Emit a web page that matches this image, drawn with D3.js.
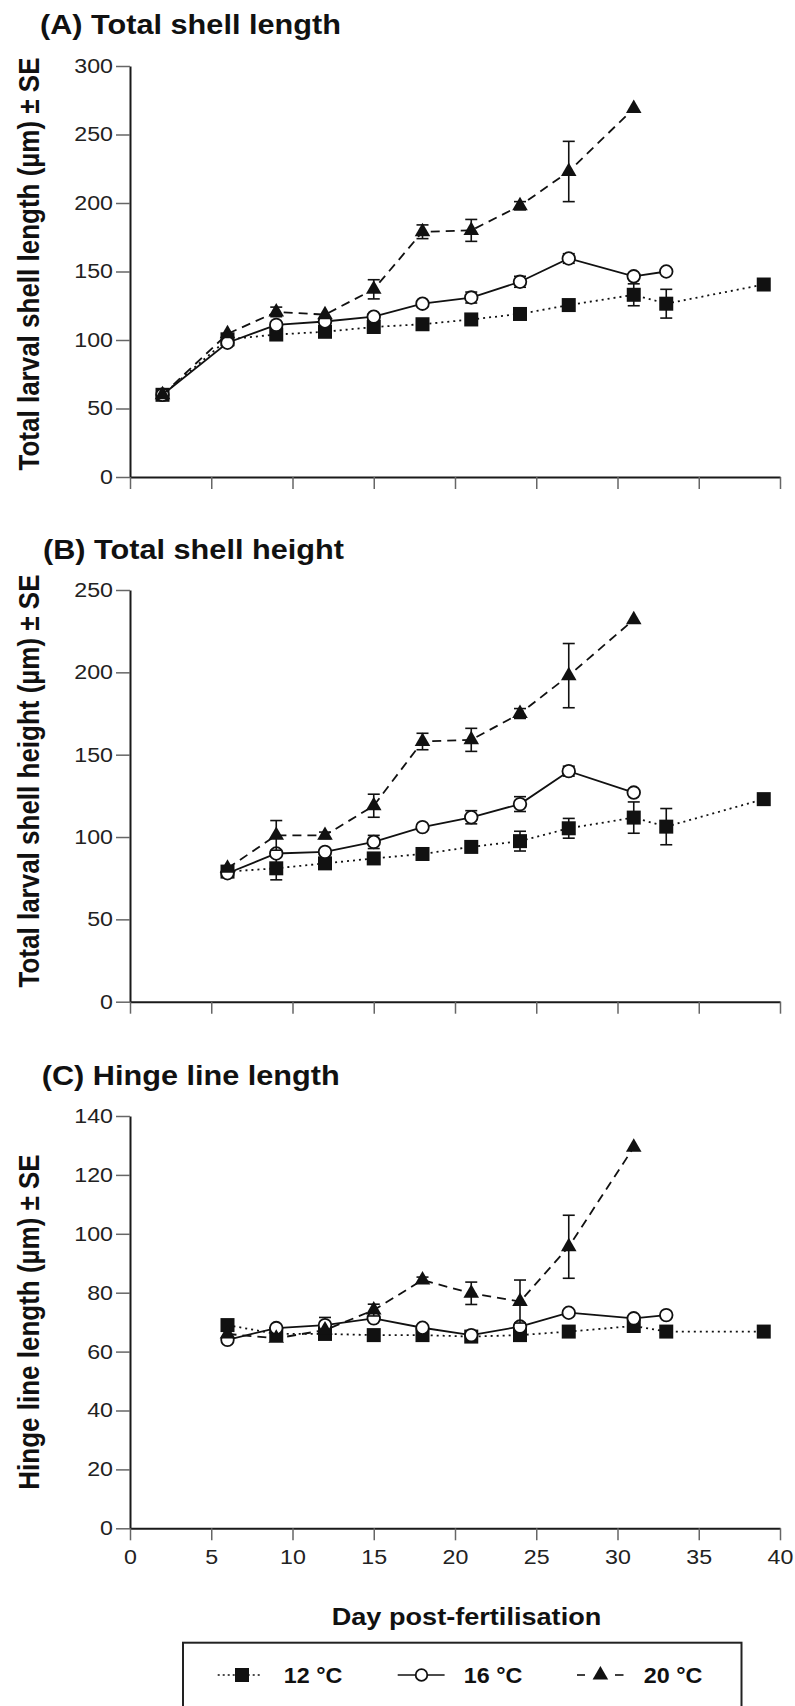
<!DOCTYPE html>
<html><head><meta charset="utf-8">
<script src="https://cdn.jsdelivr.net/npm/d3@7"></script>
<style>
body{margin:0;background:#fff}
svg{display:block}
text{font-family:"Liberation Sans",Arial,Helvetica,sans-serif}
</style>
</head><body><svg id="c" width="795" height="1706"></svg>
<script>
// ---------------- DATA ----------------
const panelTitles = ["(A) Total shell length", "(B) Total shell height", "(C) Hinge line length"];
const yLabels = ["Total larval shell length (µm) ± SE", "Total larval shell height (µm) ± SE", "Hinge line length (µm) ± SE"];
const xTicks = [0, 5, 10, 15, 20, 25, 30, 35, 40];
const yTicksA = [0, 50, 100, 150, 200, 250, 300];
const yTicksB = [0, 50, 100, 150, 200, 250];
const yTicksC = [0, 20, 40, 60, 80, 100, 120, 140];
const xLabel = "Day post-fertilisation";
const seriesNames = ["12 °C", "16 °C", "20 °C"];

// (A) Total shell length
const daysA12 = [2, 6, 9, 12, 15, 18, 21, 24, 27, 31, 33, 39];
const valsA12 = [60, 100.5, 104, 106, 109.5, 111.5, 115, 119, 125.5, 133, 126.5, 140.5];
const seA12   = [0, 0, 0, 0, 0, 0, 0, 2, 0, 8, 10.5, 0];
const daysA16 = [2, 6, 9, 12, 15, 18, 21, 24, 27, 31, 33];
const valsA16 = [60, 98, 111, 113.5, 117, 126.5, 131, 142.5, 159.5, 146.5, 150];
const seA16   = [0, 0, 0, 0, 2, 0, 4, 4, 3.5, 0, 0];
const daysA20 = [2, 6, 9, 12, 15, 18, 21, 24, 27, 31];
const valsA20 = [60, 104.5, 120.5, 118.5, 137, 179, 180, 198, 223, 269];
const seA20   = [0, 0, 3.5, 0, 7, 5, 8, 3, 22, 0];

// (B) Total shell height
const daysB12 = [6, 9, 12, 15, 18, 21, 24, 27, 31, 33, 39];
const valsB12 = [79, 81, 84, 87, 89.7, 94, 97.5, 105.3, 111.8, 106.3, 123];
const seB12   = [0, 7, 0, 0, 0, 2, 6, 6, 9.5, 11, 0];
const daysB16 = [6, 9, 12, 15, 18, 21, 24, 27, 31];
const valsB16 = [78, 90, 91, 97, 106, 112, 120, 140, 127];
const seB16   = [0, 0, 0, 4, 0, 4, 4.5, 3, 0];
const daysB20 = [6, 9, 12, 15, 18, 21, 24, 27, 31];
const valsB20 = [81, 101, 101, 119, 158, 159, 175, 198, 232];
const seB20   = [0, 9, 2, 7, 5, 7, 3, 19.5, 0];

// (C) Hinge line length
const daysC12 = [6, 9, 12, 15, 18, 21, 24, 27, 31, 33, 39];
const valsC12 = [69, 66, 66, 65.6, 65.6, 65.1, 65.6, 66.8, 68.7, 66.8, 66.8];
const seC12   = [0, 0, 0, 0, 0, 0, 0, 0, 0, 0, 0];
const daysC16 = [6, 9, 12, 15, 18, 21, 24, 27, 31, 33];
const valsC16 = [64, 68, 69, 71.3, 68.1, 65.6, 68.5, 73.2, 71.3, 72.4];
const seC16   = [0, 0, 2.6, 0, 0, 0, 0, 0, 0, 0];
const daysC20 = [6, 9, 12, 15, 18, 21, 24, 27, 31];
const valsC20 = [66, 64.5, 67.3, 74.1, 84.3, 79.8, 77, 95.6, 129.4];
const seC20   = [0, 0, 0, 2, 1, 3.8, 7.3, 10.7, 0];

// ---------------- BUILD ----------------
function zipSeries(days, vals, se) { return days.map((d, i) => ({day: d, v: vals[i], se: se[i]})); }
const panels = [
  {ticks: yTicksA, series: [zipSeries(daysA12, valsA12, seA12), zipSeries(daysA16, valsA16, seA16), zipSeries(daysA20, valsA20, seA20)]},
  {ticks: yTicksB, series: [zipSeries(daysB12, valsB12, seB12), zipSeries(daysB16, valsB16, seB16), zipSeries(daysB20, valsB20, seB20)]},
  {ticks: yTicksC, series: [zipSeries(daysC12, valsC12, seC12), zipSeries(daysC16, valsC16, seC16), zipSeries(daysC20, valsC20, seC20)]}
];

// layout (styles/positions)
const layout = [
  {top: 66,   bottom: 477,    titleX: 40,   titleY: 33.5,  labelCY: 264},
  {top: 590,  bottom: 1001.7, titleX: 43,   titleY: 559.3, labelCY: 781},
  {top: 1116, bottom: 1528.3, titleX: 41.7, titleY: 1085,  labelCY: 1322}
];
const styles = [
  {dash: "2,4", marker: "square"},
  {dash: null, marker: "circle"},
  {dash: "9,6", marker: "triangle"}
];
const INK = "#111";
const TSX = 1.16; // horizontal stretch of tick labels
const svg = d3.select("#c");
svg.append("rect").attr("width", 795).attr("height", 1706).attr("fill", "#fff");

const x = d3.scaleLinear().domain([0, 40]).range([130, 780]);

function drawMarker(g, type, cx, cy, scale) {
  const s = scale || 1;
  if (type === "square") {
    g.append("rect").attr("x", cx - 7 * s).attr("y", cy - 7 * s)
      .attr("width", 14 * s).attr("height", 14 * s).attr("fill", INK);
  } else if (type === "circle") {
    g.append("circle").attr("cx", cx).attr("cy", cy).attr("r", 6.3 * s)
      .attr("fill", "#fff").attr("stroke", INK).attr("stroke-width", 1.8);
  } else {
    g.append("path").attr("d", d3.symbol(d3.symbolTriangle, 105 * s * s)())
      .attr("transform", `translate(${cx},${cy})`).attr("fill", INK);
  }
}

panels.forEach((p, i) => {
  const L = layout[i];
  const ymax = p.ticks[p.ticks.length - 1];
  const y = d3.scaleLinear().domain([0, ymax]).range([L.bottom, L.top]);
  const g = svg.append("g");

  // title
  g.append("text").attr("transform", `translate(${L.titleX},${L.titleY}) scale(1.095,1)`)
    .attr("font-size", 28).attr("font-weight", "bold").attr("fill", "#111").text(panelTitles[i]);

  // y label
  g.append("text").attr("transform", `translate(38.5,${L.labelCY}) rotate(-90) scale(1,1.12)`)
    .attr("text-anchor", "middle").attr("font-size", 26).attr("font-weight", "bold").attr("fill", "#111")
    .text(yLabels[i]);

  // y axis
  const ya = g.append("g").attr("transform", "translate(130,0)")
    .call(d3.axisLeft(y).tickValues(p.ticks).tickSize(14).tickSizeOuter(0));
  ya.select(".domain").attr("stroke", "#1a1a1a").attr("stroke-width", 2);
  ya.selectAll(".tick line").attr("stroke", "#666").attr("stroke-width", 1.5);
  ya.selectAll(".tick text").attr("font-size", 20).attr("fill", "#222")
    .attr("font-family", "'Liberation Sans',Arial,sans-serif")
    .attr("x", -17 / TSX).attr("transform", `scale(${TSX},1)`);

  // x axis
  const xa = g.append("g").attr("transform", `translate(0,${L.bottom})`)
    .call(d3.axisBottom(x).tickValues(xTicks).tickSize(12).tickSizeOuter(0)
      .tickFormat(i === 2 ? d3.format("d") : () => ""));
  xa.select(".domain").attr("stroke", "#1a1a1a").attr("stroke-width", 2);
  xa.selectAll(".tick line").attr("stroke", "#666").attr("stroke-width", 1.5);
  xa.selectAll(".tick text").attr("font-size", 20).attr("fill", "#222")
    .attr("font-family", "'Liberation Sans',Arial,sans-serif")
    .attr("y", 21.5).attr("transform", `scale(${TSX},1)`);

  // series
  p.series.forEach((data, k) => {
    const st = styles[k];
    const sg = g.append("g");
    const line = d3.line().x(d => x(d.day)).y(d => y(d.v));
    sg.append("path").datum(data).attr("d", line).attr("fill", "none")
      .attr("stroke", INK).attr("stroke-width", 1.8)
      .attr("stroke-dasharray", st.dash);
    data.filter(d => d.se > 0).forEach(d => {
      const cx = x(d.day), y1 = y(d.v + d.se), y2 = y(d.v - d.se);
      sg.append("line").attr("x1", cx).attr("x2", cx).attr("y1", y1).attr("y2", y2)
        .attr("stroke", INK).attr("stroke-width", 1.6);
      [y1, y2].forEach(yy => sg.append("line").attr("x1", cx - 6).attr("x2", cx + 6)
        .attr("y1", yy).attr("y2", yy).attr("stroke", INK).attr("stroke-width", 1.6));
    });
    data.forEach(d => drawMarker(sg, st.marker, x(d.day), y(d.v)));
  });
});

// x label
svg.append("text").attr("transform", "translate(466.5,1625) scale(1.13,1)")
  .attr("text-anchor", "middle").attr("font-size", 24).attr("font-weight", "bold").attr("fill", "#111")
  .text(xLabel);

// legend
const lg = svg.append("g");
lg.append("rect").attr("x", 183).attr("y", 1642.7).attr("width", 558.5).attr("height", 90)
  .attr("fill", "none").attr("stroke", "#222").attr("stroke-width", 2);
const ly = 1675;
const legendItems = [
  {lines: [[217.7, 260.8]], mx: 242, tx: 283.8},
  {lines: [[397.7, 444.6]], mx: 421.5, tx: 463.8},
  {lines: [[577, 585], [615, 623.5]], mx: 600.4, tx: 643.8}
];
legendItems.forEach((it, k) => {
  it.lines.forEach(([a, b]) => lg.append("line").attr("x1", a).attr("x2", b).attr("y1", ly).attr("y2", ly)
    .attr("stroke", INK).attr("stroke-width", 1.6)
    .attr("stroke-dasharray", k === 0 ? "2,3" : null));
  drawMarker(lg, styles[k].marker, it.mx, ly, k === 1 ? 0.92 : 1);
  lg.append("text").attr("transform", `translate(${it.tx},${ly + 8}) scale(1.06,1)`)
    .attr("font-size", 22).attr("font-weight", "bold").attr("fill", "#111").text(seriesNames[k]);
});
</script></body></html>
